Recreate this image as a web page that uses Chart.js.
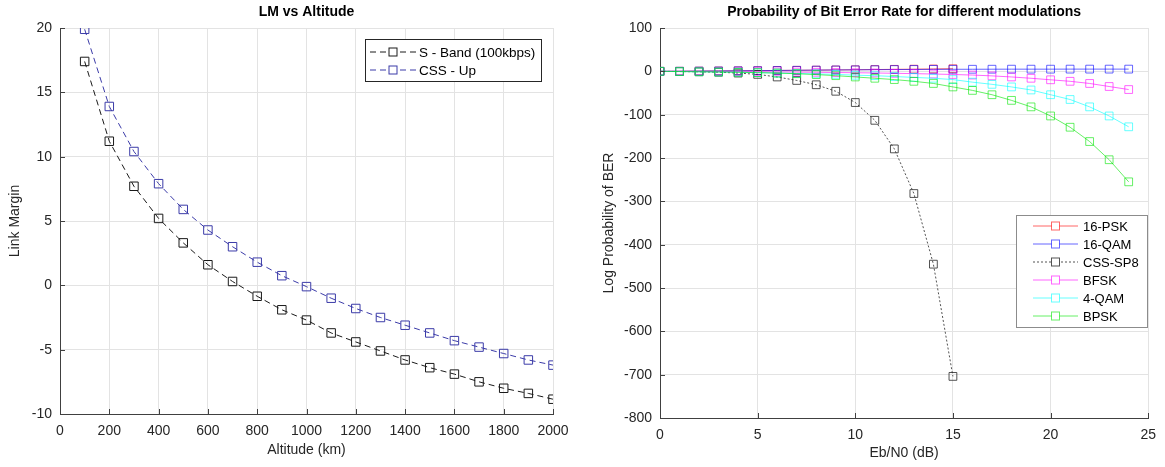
<!doctype html>
<html>
<head>
<meta charset="utf-8">
<title>LM vs Altitude / BER</title>
<script src="https://cdn.jsdelivr.net/npm/chart.js"></script>
<style>
    html, body { margin: 0; padding: 0; background: #fff; }
    .box { position: absolute; top: 0; height: 467px; width: 580px; }
</style>
</head>
<body>
<div class="box" style="left:0"><canvas id="lmChart" width="580" height="467"></canvas></div>
<div class="box" style="left:585px"><canvas id="berChart" width="580" height="467"></canvas></div>

<script>
    // ---- left plot: link margin vs altitude ----
    const altitude = [100, 200, 300, 400, 500, 600, 700, 800, 900, 1000,
                      1100, 1200, 1300, 1400, 1500, 1600, 1700, 1800, 1900, 2000];
    const sBand = [17.4, 11.2, 7.7, 5.2, 3.3, 1.6, 0.3, -0.85, -1.9, -2.7,
                   -3.7, -4.4, -5.1, -5.8, -6.4, -6.9, -7.5, -8.0, -8.4, -8.85];
    const cssUp = [19.9, 13.9, 10.4, 7.9, 5.9, 4.3, 3.0, 1.8, 0.75, -0.1,
                   -1.0, -1.8, -2.5, -3.1, -3.7, -4.3, -4.8, -5.3, -5.8, -6.2];

    // ---- right plot: log probability of BER ----
    const ebN0 = [0, 1, 2, 3, 4, 5, 6, 7, 8, 9, 10, 11, 12, 13, 14, 15,
                  16, 17, 18, 19, 20, 21, 22, 23, 24];
    const psk16 = [0, 0.3, 0.6, 0.9, 1.3, 1.6, 2.0, 2.4, 2.8, 3.2, 3.6, 4.1, 4.6, 5.0, 5.5, 6.0];
    const qam16 = [0, 0.3, 0.6, 0.9, 1.3, 1.6, 2.0, 2.4, 2.8, 3.2, 3.5, 3.8, 4.1, 4.3, 4.5,
                   4.7, 4.8, 4.9, 5.0, 5.0, 5.0, 5.1, 5.1, 5.1, 5.1];
    const cssSp8 = [0, -0.5, -1, -2, -4, -7, -13, -21, -31, -46, -72, -113, -179, -282, -445, -704];
    const bfsk = [0, -0.2, -0.4, -0.6, -0.8, -1.1, -1.4, -1.8, -2.2, -2.7, -3.2, -3.8, -4.5,
                  -5.3, -6.2, -7.3, -8.6, -10.5, -13, -16, -19.5, -23, -28, -35, -42];
    const qam4 = [0, -0.5, -1, -1.5, -2, -3, -4, -5, -6, -7, -9, -10, -12, -14, -16,
                  -19, -25, -30, -36, -43, -54, -65, -82, -103, -128];
    const bpsk = [0, -0.5, -1, -1.5, -2.2, -3, -4, -5.5, -7.5, -10, -13, -16, -19, -23, -28,
                  -36, -44, -54, -67, -82, -103, -129, -162, -204, -255];

    const FONT = '"Liberation Sans", Arial, sans-serif';
    const TEXT = '#262626';
    const GRID = '#e3e3e3';
    const AXIS = '#404040';

    Chart.defaults.font.family = FONT;
    Chart.defaults.color = TEXT;
    Chart.defaults.animation = false;

    function pts(xs, ys) {
        return ys.map((y, i) => ({ x: xs[i], y: y }));
    }

    // title, matlab style inward ticks and a boxed legend inside the axes
    const matlabDecor = {
        id: 'matlabDecor',
        afterDraw(chart, args, opts) {
            const ctx = chart.ctx;
            const area = chart.chartArea;
            ctx.save();

            // inward ticks
            ctx.strokeStyle = AXIS;
            ctx.lineWidth = 1;
            ctx.setLineDash([]);
            const xs = chart.scales.x, ys = chart.scales.y;
            xs.ticks.forEach(t => {
                const px = Math.round(xs.getPixelForValue(t.value)) + 0.5;
                ctx.beginPath();
                ctx.moveTo(px, area.bottom);
                ctx.lineTo(px, area.bottom - 5);
                ctx.stroke();
            });
            ys.ticks.forEach(t => {
                const py = Math.round(ys.getPixelForValue(t.value)) + 0.5;
                ctx.beginPath();
                ctx.moveTo(area.left, py);
                ctx.lineTo(area.left + 5, py);
                ctx.stroke();
            });

            // title
            ctx.fillStyle = '#000';
            ctx.font = 'bold 14px ' + FONT;
            ctx.textAlign = 'center';
            ctx.textBaseline = 'middle';
            ctx.fillText(opts.title, (area.left + area.right) / 2, 12);

            // legend
            const lg = opts.legend;
            ctx.fillStyle = '#fff';
            ctx.fillRect(lg.x, lg.y, lg.w, lg.h);
            ctx.strokeStyle = lg.border;
            ctx.strokeRect(lg.x + 0.5, lg.y + 0.5, lg.w, lg.h);
            ctx.font = lg.fontSize + 'px ' + FONT;
            ctx.textAlign = 'left';
            chart.data.datasets.forEach((ds, i) => {
                const y = lg.y + lg.first + i * lg.row;
                ctx.strokeStyle = ds.borderColor;
                ctx.lineWidth = 1;
                ctx.setLineDash(ds.borderDash || []);
                ctx.beginPath();
                ctx.moveTo(lg.x + lg.lineFrom, y);
                ctx.lineTo(lg.x + lg.lineTo, y);
                ctx.stroke();
                ctx.setLineDash([]);
                const m = lg.marker / 2;
                const cx = lg.x + (lg.lineFrom + lg.lineTo) / 2;
                ctx.fillStyle = '#fff';
                ctx.fillRect(cx - m, y - m, 2 * m, 2 * m);
                ctx.strokeStyle = ds.pointBorderColor;
                ctx.strokeRect(cx - m, y - m, 2 * m, 2 * m);
                ctx.fillStyle = '#000';
                ctx.fillText(ds.label, lg.x + lg.text, y + 1);
            });
            ctx.restore();
        }
    };

    function axisOpts(min, max, step, title, isX, titlePad, size) {
        return {
            type: 'linear',
            min: min,
            max: max,
            ticks: {
                stepSize: step,
                padding: isX ? 9 : 8,
                color: TEXT,
                font: { size: 14 },
                maxRotation: 0,
                autoSkip: false,
                callback: v => String(v)
            },
            grid: { color: GRID, drawTicks: false },
            border: { color: AXIS, width: 1 },
            title: { display: true, text: title, color: TEXT, font: { size: 14 }, padding: titlePad },
            afterFit: s => { if (isX) s.height = size; else s.width = size; }
        };
    }

    function dataset(label, xs, ys, color, dash, order, radius) {
        return {
            label: label,
            data: pts(xs, ys),
            showLine: true,
            borderColor: color,
            borderWidth: 1,
            borderDash: dash,
            pointStyle: 'rect',
            pointRadius: radius,
            pointBorderWidth: 1,
            pointBorderColor: color,
            pointBackgroundColor: 'rgba(0,0,0,0)',
            order: order
        };
    }

    new Chart(document.getElementById('lmChart'), {
        type: 'scatter',
        data: {
            datasets: [
                dataset('S - Band (100kbps)', altitude, sBand, '#1a1a1a', [6, 4], 2, 6),
                dataset('CSS - Up', altitude, cssUp, '#3b3ba8', [6, 4], 1, 6)
            ]
        },
        options: {
            responsive: false,
            maintainAspectRatio: false,
            layout: { padding: { left: 0, right: 27, top: 28, bottom: 0 } },
            scales: {
                x: axisOpts(0, 2000, 200, 'Altitude (km)', true, { top: 0, bottom: 8 }, 53),
                y: axisOpts(-10, 20, 5, 'Link Margin', false, { top: 7, bottom: 0 }, 60)
            },
            plugins: {
                legend: { display: false },
                tooltip: { enabled: false },
                matlabDecor: {
                    title: 'LM vs Altitude',
                    legend: { x: 365, y: 39, w: 176, h: 42, first: 13, row: 18, fontSize: 13.5,
                              lineFrom: 5, lineTo: 51, marker: 8, text: 54, border: '#262626' }
                }
            }
        },
        plugins: [matlabDecor]
    });

    new Chart(document.getElementById('berChart'), {
        type: 'scatter',
        data: {
            datasets: [
                dataset('16-PSK', ebN0, psk16, 'rgba(255,0,0,0.6)', [], 6, 5.5),
                dataset('16-QAM', ebN0, qam16, 'rgba(0,0,255,0.6)', [], 5, 5.5),
                dataset('CSS-SP8', ebN0, cssSp8, 'rgba(40,40,40,0.8)', [2, 2], 4, 5.5),
                dataset('BFSK', ebN0, bfsk, 'rgba(255,0,255,0.6)', [], 3, 5.5),
                dataset('4-QAM', ebN0, qam4, 'rgba(0,255,255,0.6)', [], 2, 5.5),
                dataset('BPSK', ebN0, bpsk, 'rgba(0,230,0,0.6)', [], 1, 5.5)
            ]
        },
        options: {
            responsive: false,
            maintainAspectRatio: false,
            layout: { padding: { left: 0, right: 13, top: 28, bottom: 0 } },
            scales: {
                x: axisOpts(0, 25, 5, 'Eb/N0 (dB)', true, { top: 0, bottom: 5 }, 49),
                y: axisOpts(-800, 100, 100, 'Log Probability of BER', false, { top: 16, bottom: 0 }, 75)
            },
            plugins: {
                legend: { display: false },
                tooltip: { enabled: false },
                matlabDecor: {
                    title: 'Probability of Bit Error Rate for different modulations',
                    legend: { x: 431, y: 215, w: 131, h: 112, first: 11, row: 18, fontSize: 13,
                              lineFrom: 17, lineTo: 62, marker: 8, text: 67, border: '#8c8c8c' }
                }
            }
        },
        plugins: [matlabDecor]
    });
</script>
</body>
</html>
